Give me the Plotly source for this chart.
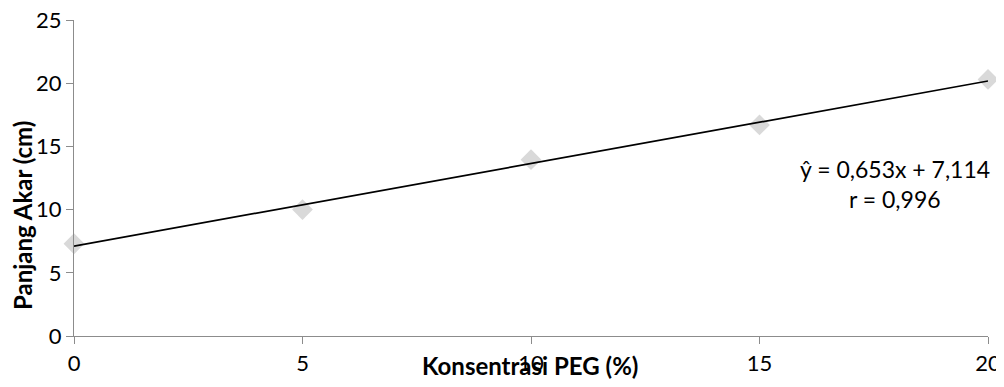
import plotly.graph_objects as go

konsentrasi = [0, 5, 10, 15, 20]
panjang_akar = [7.3, 10.0, 13.95, 16.7, 20.3]
slope = 0.653
intercept = 7.114
x_ticks = [0, 5, 10, 15, 20]
y_ticks = [0, 5, 10, 15, 20, 25]

line_x = [min(konsentrasi), max(konsentrasi)]
line_y = [slope * v + intercept for v in line_x]

fig = go.Figure()
fig.add_trace(go.Scatter(x=konsentrasi, y=panjang_akar, mode="markers",
                         marker=dict(symbol="diamond", size=16, color="#D9D9D9"),
                         cliponaxis=False, showlegend=False))
fig.add_trace(go.Scatter(x=line_x, y=line_y, mode="lines", cliponaxis=False,
                         line=dict(color="black", width=1.7), showlegend=False))

font = "Lato, 'Open Sans', sans-serif"
axis_common = dict(showgrid=False, zeroline=False, showline=True,
                   linecolor="#8C8C8C", linewidth=1.3, ticks="outside",
                   ticklen=7, tickcolor="#8C8C8C", tickwidth=1.3,
                   automargin=False,
                   ticklabeloverflow="allow", tickfont=dict(size=22))
fig.update_layout(
    width=1004, height=387,
    margin=dict(l=66, r=24, t=12, b=59, autoexpand=False),
    plot_bgcolor="white", paper_bgcolor="white",
    font=dict(family=font, size=22, color="black"),
    xaxis=dict(range=[0, 20], tickvals=x_ticks, **axis_common),
    yaxis=dict(range=[0, 25], tickvals=y_ticks, **axis_common),
    annotations=[
        dict(text="<b>Konsentrasi PEG (%)</b>", xref="paper", yref="paper",
             x=0.499, y=-0.092, xanchor="center", yanchor="middle", showarrow=False,
             font=dict(size=24)),
        dict(text="<b>Panjang Akar (cm)</b>", xref="paper", yref="paper",
             x=-0.0558, y=0.383, xanchor="center", yanchor="middle", textangle=-90,
             showarrow=False, font=dict(size=24)),
        dict(text="ŷ = 0,653x + 7,114", xref="x", yref="y",
             x=17.96, y=13.25, xanchor="center", yanchor="middle", showarrow=False,
             font=dict(size=23)),
        dict(text="r = 0,996", xref="x", yref="y",
             x=17.96, y=10.8, xanchor="center", yanchor="middle", showarrow=False,
             font=dict(size=23)),
    ],
)
fig.write_html("out.html")
